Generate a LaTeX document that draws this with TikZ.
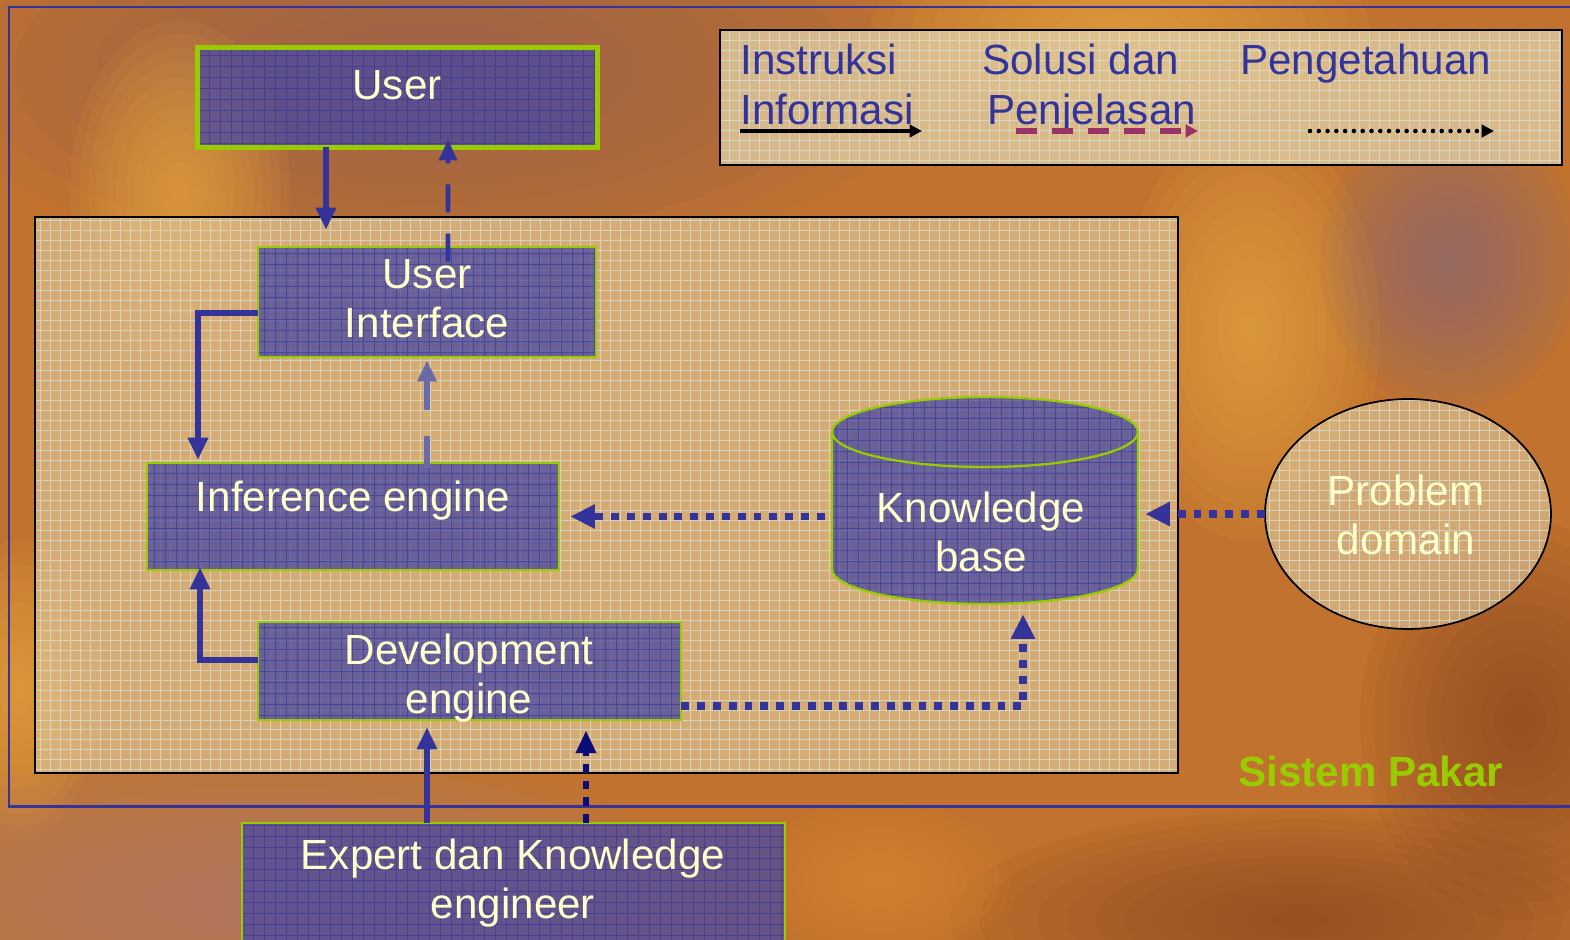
\documentclass[tikz,border=0pt]{standalone}
\usepackage{fontspec}
\setmainfont{Liberation Sans}
\usetikzlibrary{arrows.meta,shapes.geometric,calc}

\definecolor{ink}{HTML}{333399}
\definecolor{navyink}{HTML}{0C0C78}
\definecolor{paleink}{HTML}{6A6AA6}
\definecolor{lime}{HTML}{99CC00}
\definecolor{cream}{HTML}{FFFFCC}
\definecolor{boxblue}{HTML}{4848A2}
\definecolor{plum}{HTML}{993366}
\definecolor{bgbase}{HTML}{C0722E}
\definecolor{beige}{HTML}{DEBC88}
\definecolor{paneltan}{HTML}{E2CCA0}
\definecolor{gridcyan}{HTML}{CFE6E0}
\definecolor{mauve}{HTML}{946058}
\definecolor{gold}{HTML}{ECAA44}
\definecolor{brightor}{HTML}{DC8A2C}
\definecolor{pinkish}{HTML}{B08078}
\definecolor{darkbr}{HTML}{8A4620}
\definecolor{greypurple}{HTML}{8A6A7C}

% soft-edged patch of colour: centre x, centre y, x radius (cm), y radius (cm), colour
\newcommand\softblob[5]{%
  \foreach \k in {1,...,12}{%
    \fill[#5, opacity=0.09] (#1,#2) ellipse [x radius={#3*\k/12*1cm}, y radius={#4*\k/12*1cm}];
  }%
}

\begin{document}
\begin{tikzpicture}[x=0.02cm,y=-0.02cm,
  lbl/.style={font=\fontsize{24}{28}\selectfont, align=center, text=cream, inner sep=0pt},
  legtxt/.style={font=\fontsize{24}{28}\selectfont, text=ink, anchor=base west, inner sep=0pt},
  bluebox/.style={fill=boxblue, fill opacity=0.75, inner sep=0pt},
  rim/.style={draw=lime, line width=1.3pt},
  boxgrid/.style={draw=ink, line width=0.35pt, opacity=0.6},
  palegrid/.style={draw=gridcyan, line width=0.4pt, opacity=0.7},
  solidarr/.style={-{Triangle[length=12.5pt,width=11pt]}, draw=ink, line width=3pt},
  dasharr/.style={-{Triangle[length=12pt,width=10pt]}, draw=ink, line width=2.6pt, dash pattern=on 16pt off 12pt},
  paledash/.style={-{Triangle[length=12pt,width=10.5pt]}, draw=paleink, line width=2.9pt, dash pattern=on 18pt off 15pt},
  dotarr/.style={-{Triangle[length=14pt,width=13pt]}, draw=ink, line width=4pt, dash pattern=on 4.5pt off 4.5pt},
  navydot/.style={-{Triangle[length=13pt,width=11pt]}, draw=navyink, line width=3.6pt, dash pattern=on 5pt off 4.5pt},
]
\useasboundingbox (0,0) rectangle (1570,940);
\clip (0,0) rectangle (1570,940);

% blurred backdrop
\fill[bgbase] (0,0) rectangle (1570,940);
\softblob{430}{70}{10}{4}{mauve}
\softblob{180}{190}{2.2}{3.4}{gold}
\softblob{1120}{30}{5}{2}{gold}
\softblob{1250}{330}{2.6}{4.2}{gold}
\softblob{1450}{260}{2.6}{3}{greypurple}
\softblob{20}{690}{1.6}{3}{gold}
\softblob{1520}{720}{3.2}{4}{darkbr}
\softblob{260}{900}{9}{3}{pinkish}
\softblob{1300}{920}{7}{2.2}{darkbr}
\softblob{880}{880}{2.6}{1.6}{brightor}

% outer frame of the expert system
\draw[ink, line width=1.7pt] (1600,7) -- (9,7) -- (9,806) -- (1600,806);

% inner system area
\fill[beige, opacity=0.78] (35,217) rectangle (1178,773);
\begin{scope}
  \clip (35,217) rectangle (1178,773);
  \draw[palegrid, step=0.2cm] (0,0) grid (1570,940);
\end{scope}
\draw[black, line width=1.1pt] (35,217) rectangle (1178,773);

% legend panel
\fill[paneltan, opacity=0.8] (720,30) rectangle (1562,165);
\begin{scope}
  \clip (720,30) rectangle (1562,165);
  \draw[palegrid, step=0.2cm] (0,0) grid (1570,940);
\end{scope}
\draw[black, line width=1.1pt] (720,30) rectangle (1562,165);

\node[legtxt] (l1a) at (740,74) {Instruksi};
\node[legtxt] (l1b) at (740,124) {Informasi};
\node[legtxt] (l2a) at (982,74) {Solusi dan};
\node[legtxt] (l2b) at (987,124) {Penjelasan};
\node[legtxt] (l3a) at (1240,74) {Pengetahuan};

\coordinate (la1) at (740,131);
\coordinate (lb1) at (922,131);
\coordinate (la2) at (1016,131);
\coordinate (lb2) at (1198,131);
\coordinate (la3) at (1310,131);
\coordinate (lb3) at (1494,131);
\draw[black, line width=2.8pt, -{Triangle[length=7pt,width=7pt]}] (la1) -- (lb1);
\draw[plum, line width=3pt, dash pattern=on 12pt off 8.5pt, -{Triangle[length=7pt,width=7pt]}] (la2) -- (lb2);
\draw[black, line width=2.6pt, line cap=round, dash pattern=on 0pt off 5pt, -{Triangle[length=7pt,width=7pt]}] (la3) -- (lb3);

% boxes
\node[bluebox, minimum width=7.98cm, minimum height=1.98cm] (user) at (397.5,97.5) {};
\node[bluebox, minimum width=6.76cm, minimum height=2.2cm] (ui) at (427,302) {};
\node[bluebox, minimum width=8.24cm, minimum height=2.14cm] (inf) at (353,516.5) {};
\node[bluebox, minimum width=8.46cm, minimum height=1.96cm] (dev) at (469.5,671) {};
\node[bluebox, minimum width=10.86cm, minimum height=2.74cm] (exp) at (513.5,891.5) {};

\foreach \b in {user,ui,inf,dev,exp}{
  \begin{scope}
    \clip (\b.south west) rectangle (\b.north east);
    \draw[boxgrid, step=0.22cm] (0,0) grid (1570,940);
  \end{scope}
}
\draw[rim, line width=2.9pt] (user.south west) rectangle (user.north east);
\foreach \b in {ui,inf,dev,exp}{
  \draw[rim] (\b.south west) rectangle (\b.north east);
}

% knowledge base cylinder
\node[minimum width=6.12cm, minimum height=4.14cm, inner sep=0pt] (kb) at (985,500.5) {};
\path[fill=boxblue, fill opacity=0.75] (832,432) -- (832,569)
  arc[start angle=180, end angle=360, x radius=3.06cm, y radius=0.7cm] -- (1138,432)
  arc[start angle=0, end angle=180, x radius=3.06cm, y radius=0.7cm] -- cycle;
\begin{scope}
  \clip (832,432) -- (832,569)
    arc[start angle=180, end angle=360, x radius=3.06cm, y radius=0.7cm] -- (1138,432)
    arc[start angle=0, end angle=180, x radius=3.06cm, y radius=0.7cm] -- cycle;
  \draw[boxgrid, step=0.22cm] (0,0) grid (1570,940);
\end{scope}
\draw[rim] (832,432) -- (832,569)
  arc[start angle=180, end angle=360, x radius=3.06cm, y radius=0.7cm] -- (1138,432);
\draw[rim] (985,432) ellipse [x radius=3.06cm, y radius=0.7cm];

% problem domain
\node[ellipse, fill=paneltan, fill opacity=0.6,
      minimum width=5.72cm, minimum height=4.6cm, inner sep=0pt] (pd) at (1408,514) {};
\begin{scope}
  \clip (1408,514) ellipse [x radius=2.86cm, y radius=2.3cm];
  \draw[palegrid, step=0.2cm] (0,0) grid (1570,940);
\end{scope}
\draw[black, line width=1pt] (1408,514) ellipse [x radius=2.86cm, y radius=2.3cm];

% labels
\node[lbl] (usert) at (397,85) {User};
\node[lbl] (uit) at (427,299) {User\\Interface};
\node[lbl] (inft) at (353,501) {Inference engine};
\node[lbl] (devt) at (469,678) {Development\\engine};
\node[lbl] (expt) at (513,883) {Expert dan Knowledge\\engineer};
\node[lbl] (kbt) at (981,532) {Knowledge\\base};
\node[lbl] (pdt) at (1406,515) {Problem\\domain};
\node[font=\bfseries\fontsize{24}{28}\selectfont, text=lime, anchor=base west, inner sep=0pt] (sp) at (1238,786) {Sistem Pakar};

% connectors
\draw[solidarr] ($(user.south)+(-71.5,0)$) -- ($(ui.north)+(-101,-17)$);
\draw[dasharr] ($(ui.north)+(21,15)$) -- ($(user.south)+(50.5,-8)$);
\draw[solidarr] ($(ui.west)+(0,11)$) -| ($(inf.north)+(-155,-3)$);
\draw[paledash] ($(inf.north)+(74,5)$) -- ($(ui.south)+(0,3)$);
\draw[dotarr] ($(kb.west |- inf.east)+(-7,0)$) -- ($(inf.east)+(11,0)$);
\draw[dotarr] (pd.west) -- ($(pd.west -| kb.east)+(7,0)$);
\draw[solidarr] ($(dev.west)+(0,-11)$) -| ($(inf.south)+(-153,-3)$);
\draw[dotarr] ($(dev.east)+(0,35)$) -| ($(kb.south)+(38,10)$);
\draw[solidarr] ($(exp.north)+(-86.5,0)$) -- ($(dev.south)+(-42.5,7)$);
\draw[navydot] ($(exp.north)+(72.5,0)$) -- ($(dev.south)+(116.5,10)$);
\end{tikzpicture}
\end{document}
